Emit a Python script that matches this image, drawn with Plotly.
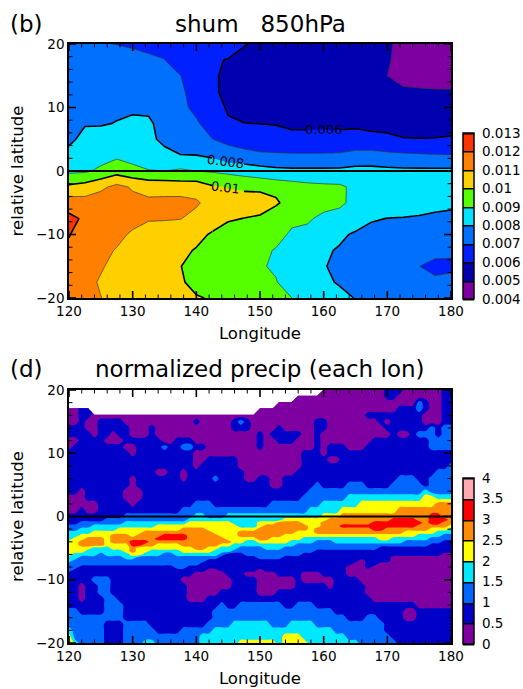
import numpy as np
import plotly.graph_objects as go

W, H = 523, 689
FONT = "DejaVu Sans"

# ---------- panel (b): specific humidity at 850 hPa, units of 1e-5 ----------
SHUM_LON = [120 + 2.5 * i for i in range(25)]
SHUM_LAT = [20, 17.5, 15, 12.5, 10, 7.5, 5, 2.5, 0, -2.5, -5, -7.5, -10, -12.5, -15, -17.5, -20]
SHUM_E5 = [
    [760,750,705,698,690,685,680,670,660,640,625,603,585,570,560,555,550,540,530,520,505,490,475,460,460],
    [780,770,755,740,725,710,701,650,625,605,598,585,575,565,555,550,545,535,525,515,503,490,470,455,450],
    [790,780,770,760,750,740,725,701,665,610,585,575,565,555,550,545,540,530,520,510,500,470,460,450,450],
    [790,785,775,770,770,760,740,715,665,610,585,570,560,555,545,540,535,530,525,520,515,514,512,510,509],
    [785,790,790,790,795,790,760,720,680,620,595,575,565,560,555,550,550,545,545,540,540,535,535,535,540],
    [790,795,795,802,806,808,781,760,710,660,605,601,599,595,580,580,580,580,585,575,570,560,560,550,550],
    [785,820,825,830,830,810,790,745,720,701,680,660,650,640,630,630,630,630,630,625,620,605,603,605,613],
    [820,850,860,880,860,830,812,802,800,780,735,725,713,711,710,710,710,712,730,733,720,715,710,705,703],
    [880,885,920,960,930,906,900,915,900,890,875,860,840,825,820,820,820,820,830,830,825,820,820,820,820],
    [1020,1040,1080,1125,1090,1070,1067,1050,1054,1010,995,980,976,960,943,927,919,915,880,870,870,860,860,860,860],
    [1150,1140,1150,1170,1126,1117,1121,1133,1113,1061,1050,1050,1050,1020,940,925,915,910,885,870,860,850,840,830,825],
    [1225,1185,1175,1150,1125,1108,1108,1103,1070,1045,1010,998,985,920,910,905,890,880,860,810,798,795,790,780,770],
    [1205,1150,1130,1120,1089,1060,1045,1035,1025,990,960,945,930,915,893,890,855,820,785,765,760,750,750,745,740],
    [1180,1145,1120,1095,1075,1060,1045,1018,994,965,950,935,910,897,870,840,815,790,760,740,730,725,725,722,720],
    [1170,1135,1105,1085,1065,1050,1035,1002,970,950,930,915,905,893,860,830,805,780,750,730,715,705,701,680,680],
    [1150,1115,1095,1075,1055,1040,1025,1008,980,960,940,920,912,903,870,840,810,795,760,740,725,715,712,714,728],
    [1150,1120,1101,1085,1060,1045,1030,1015,1005,995,975,955,935,920,900,880,850,815,798,770,755,745,735,730,730],
]
SHUM_LEVELS = [0.004, 0.005, 0.006, 0.007, 0.008, 0.009, 0.01, 0.011, 0.012, 0.013]
SHUM_LABELS = ["0.004", "0.005", "0.006", "0.007", "0.008", "0.009", "0.01", "0.011", "0.012", "0.013"]
SHUM_COLORS = ["#7f00a0", "#0000b0", "#0020ff", "#0070ff", "#00e5ff", "#55ff00", "#ffd000", "#ff8000", "#ff3300"]
# isoline labels of panel (b): text, longitude, latitude, tilt
SHUM_ISOLINE_LABELS = [
    ("0.006", 160, 6.6, 0),
    ("0.008", 144.6, 1.5, 7),
    ("0.01", 144.6, -2.6, 7),
]
EQUATOR_ROW = SHUM_LAT.index(0)

# ---------- panel (d): normalized precip, each digit = colour band (0-7) at one lon ----------
PRECIP_LON = list(range(120, 181))
PRECIP_LAT = list(range(20, 0, -1)) + [0, -0.5, -1, -1.5, -2, -2.5, -3, -3.5, -4, -4.5, -5, -5.5, -6,
                                       -6.5, -7, -7.5, -8, -8.5] + list(range(-9, -21, -1))
D = ".........."
P0 = "0000000000"
N1 = "1111111111"
PRECIP_BANDS = [
    f"{D} {D} {D} {D} {P0} 1110000001 1",
    f"{D} {D} {D} ......0000 {P0} 1100000001 1",
    f"{D} {D} {D} ...0000000 {P0} 0000021001 1",
    f"0011...... {D} {D} {P0} {P0} 0011121001 1",
    f"0011000000 {P0} {P0} {P0} 0000000111 1111110001 1",
    f"0010011110 {P0} 1000001210 0000000001 1000000001 0111110001 1",
    f"1110011111 0001000000 0000001110 0001000001 1000000000 1111111212 2",
    f"1111011011 0001000000 {P0} 1011111001 {P0} 0100122212 2",
    f"0011110001 1111100111 {P0} 1001110001 0000000011 1111111222 2",
    f"0111111110 0111121122 1100000000 1000000001 0111000111 1111111222 2",
    f"{N1} 0111111111 {P0} 0000000111 0111111111 {N1} 1",
    f"{N1} {N1} 0011111000 0000000111 1001111111 {N1} 1",
    f"{N1} {N1} 0111111000 0000000111 {N1} {N1} 2",
    f"{N1} 1111001101 1111111100 0000001111 {N1} 1111111122 2",
    f"{N1} 0111111101 1112111100 1100111111 {N1} 1122211222 2",
    f"{N1} 0111111111 {N1} 1100111112 1111222111 1222221222 2",
    f"1101111110 0011111111 {N1} 1111111122 2222222222 2222223222 2",
    f"0001111110 0011111111 {N1} 1111111222 2222333333 3333334433 3",
    f"0000011111 0111111111 2221111111 1122222222 3333334444 4444444455 5",
    f"0010011111 1111111122 2222222222 2222222233 3334444444 4455555555 5",
    f"1111111112 2222222222 3322233333 3333333333 4445555555 5555555665 5",
    "1111112222 2222222223 3333333333 3333444444 4555555555 5666655666 5",
    "1122222223 3333333334 4444443333 4445555444 5555555566 6666665665 5",
    "2222333333 3333444444 4444444333 4555555544 5556666666 6666655555 4",
    "2233333344 4444444455 5544444444 5555555545 5555555566 5555555444 3",
    "3333444444 4455555555 5554444555 5555554445 5555555555 5554444433 3",
    "3344444555 4555566665 5555444555 5555444444 4444444444 4444433332 2",
    "3445554555 5555666665 5555544444 5544444333 3333333334 4333333222 2",
    "4455554555 6665555555 5555554433 4444433332 2233333333 3332222221 1",
    "4455554444 6655444455 5555443333 3333332222 2222222222 2222222111 1",
    "4444333444 5444444444 5544333222 2333222222 2222222221 1111111111 1",
    "4443333334 5443333344 4443332222 2222222221 1111111111 1111111111 1",
    "4333323333 4433322333 3333211122 2222222111 1111111111 1111111110 0",
    "3322222223 3222222222 2222111111 2222111111 1111111111 1000000000 0",
    "3222222222 2222222222 2211111111 1111111111 1111110111 1000000000 0",
    "2222222222 2222222222 2111111111 1111111111 1111100110 0000000000 0",
    "2211111111 1111111221 1111111111 1111111111 1111000100 0000000000 0",
    "2111111111 1111111111 1100111111 0111111111 1111000000 0000000000 0",
    "1111111111 1111111111 0000011100 0001111000 1111000000 0000000000 0",
    "1111222111 1111111100 0000001111 0000001000 0011110000 0000000000 0",
    "1101122111 1111111110 0000001111 0000001111 1011111000 0000000000 0",
    "1101122111 1111111110 0000111111 0001111111 1111111000 0000000000 0",
    "1101112211 1111111110 0011111111 1111111111 1111111100 0000000000 0",
    "1111112221 1111111111 1111211222 2222112221 1111111111 1111100000 0",
    "2211112221 1111111111 1112222222 2222222222 2211111111 1110011111 1",
    "2222222221 1111111111 1112222222 2222222222 2222111221 1110011111 1",
    "2222221112 2221111111 1122223333 3322233332 2222222222 1111111111 1",
    "3222221112 2222111122 2223333333 3333333333 3322222222 1111111111 1",
    "4222221112 2222222222 2333333333 3333444333 3333222222 2111111111 1",
    "5322221112 2233222222 2333333444 4443444433 3333332222 2211111111 1",
]
PRECIP_LEVELS = [0, 0.5, 1, 1.5, 2, 2.5, 3, 3.5, 4]
PRECIP_LABELS = ["0", "0.5", "1", "1.5", "2", "2.5", "3", "3.5", "4"]
PRECIP_COLORS = ["#7f00a0", "#0000c8", "#0066ff", "#00e8ff", "#ffff00", "#ff8c00", "#ff0000", "#ffaab0"]

X_MAJOR = [120, 130, 140, 150, 160, 170, 180]
X_MINOR = [v for v in range(120, 181, 2) if v % 10]
Y_MAJOR = [-20, -10, 0, 10, 20]
Y_MINOR = [v for v in range(-20, 21, 2) if v % 10]


def step_scale(colors):
    n = len(colors)
    out = []
    for i, c in enumerate(colors):
        out += [[i / n, c], [(i + 1) / n, c]]
    return out


def band_values(rows):
    grid = []
    for r in rows:
        r = r.replace(" ", "")
        grid.append([np.nan if ch == "." else int(ch) * 0.5 + 0.25 for ch in r])
    return np.array(grid)


shum = np.array(SHUM_E5) * 1e-5
precip = band_values(PRECIP_BANDS)

P_L, P_R = 69 / W, 451 / W
T1, B1 = 1 - 44 / H, 1 - 298 / H
T2, B2 = 1 - 390 / H, 1 - 643 / H
CB_X = 463 / W


def colorbar(levels, labels, y0, y1):
    return dict(
        x=CB_X, xanchor="left", xpad=0, y=(y0 + y1) / 2, yanchor="middle", ypad=0,
        len=y1 - y0, lenmode="fraction", thickness=11, thicknessmode="pixels",
        outlinecolor="black", outlinewidth=1.5, borderwidth=0,
        tickmode="array", tickvals=levels, ticktext=labels,
        ticks="outside", ticklen=5, tickcolor="rgba(0,0,0,0)",
        tickfont=dict(family=FONT, size=13.5, color="black"),
    )


fig = go.Figure()


def add_panel(xa, ya, x, y, z, levels, labels, colors, cy0, cy1, smooth):
    step = levels[1] - levels[0]
    # colour key carrier: hidden beneath the field, gives black separators in the key
    mid = len(x) // 2
    fig.add_trace(go.Contour(
        x=[x[mid], x[mid + 1]], y=[0, 0.5],
        z=[[levels[0], levels[0]], [levels[0], levels[0]]],
        xaxis=xa, yaxis=ya, autocontour=False,
        contours=dict(start=levels[0], end=levels[-1], size=step, coloring="fill", showlines=True),
        line=dict(color="black", width=1.5),
        colorscale=step_scale(colors), zmin=levels[0], zmax=levels[-1], zauto=False,
        colorbar=colorbar(levels, labels, cy0, cy1), showscale=True, hoverinfo="skip",
    ))
    fig.add_trace(go.Contour(
        x=x, y=y, z=z, xaxis=xa, yaxis=ya, autocontour=False,
        contours=dict(start=levels[0], end=levels[-1], size=step, coloring="fill", showlines=False),
        line=dict(width=0, smoothing=smooth),
        colorscale=step_scale(colors), zmin=levels[0], zmax=levels[-1], zauto=False,
        showscale=False, connectgaps=False, hoverinfo="skip",
    ))


def heavy(level, rows, cols):
    """One stretch of a heavy isoline of panel (b), from a sub-block of the same table."""
    r0, r1 = rows
    c0, c1 = cols
    fig.add_trace(go.Contour(
        x=SHUM_LON[c0:c1 + 1], y=SHUM_LAT[r0:r1 + 1], z=shum[r0:r1 + 1, c0:c1 + 1],
        xaxis="x", yaxis="y", autocontour=False,
        contours=dict(start=level, end=level, size=0.002, coloring="none", showlabels=False),
        line=dict(color="black", width=1.6, smoothing=0), showscale=False, hoverinfo="skip",
    ))


add_panel("x", "y", SHUM_LON, SHUM_LAT, shum, SHUM_LEVELS, SHUM_LABELS, SHUM_COLORS,
          1 - 299 / H, 1 - 133 / H, 0)
# thin isolines at the odd levels
fig.add_trace(go.Contour(
    x=SHUM_LON, y=SHUM_LAT, z=shum, xaxis="x", yaxis="y", autocontour=False,
    contours=dict(start=0.005, end=0.011, size=0.002, coloring="none", showlabels=False),
    line=dict(color="#333333", width=0.7, smoothing=0), showscale=False, hoverinfo="skip",
))
# heavy isolines, broken where their labels sit
n = EQUATOR_ROW
last_row, last_col = len(SHUM_LAT) - 1, len(SHUM_LON) - 1
heavy(0.006, (0, n), (0, 15))
heavy(0.006, (0, n), (17, last_col))
heavy(0.008, (0, n), (0, 9))
heavy(0.008, (0, n), (11, last_col))
heavy(0.008, (n, last_row), (0, last_col))
heavy(0.01, (0, last_row), (0, 9))
heavy(0.01, (n + 2, last_row), (9, 11))
heavy(0.01, (0, last_row), (11, last_col))
heavy(0.012, (0, last_row), (0, last_col))
add_panel("x2", "y2", PRECIP_LON, PRECIP_LAT, precip, PRECIP_LEVELS, PRECIP_LABELS, PRECIP_COLORS,
          1 - 644 / H, 1 - 478 / H, 1)


def segments(values, other, length, along_x):
    """Tick segments on both opposite edges, in data units."""
    a, b = [], []
    for v in values:
        for edge, sign in ((other[0], 1), (other[1], -1)):
            a += [v, v, None]
            b += [edge, edge + sign * length, None]
    return (a, b) if along_x else (b, a)


DX_PER_PX = 60 / 382
DY_PER_PX = 40 / 254
for xa, ya in (("x", "y"), ("x2", "y2")):
    fig.add_trace(go.Scatter(x=[120, 180], y=[0, 0], xaxis=xa, yaxis=ya, mode="lines",
                             line=dict(color="black", width=2), showlegend=False, hoverinfo="skip"))
    for vals, rng, ln, w, along in (
        (X_MAJOR, (-20, 20), 7 * DY_PER_PX, 1.6, True),
        (X_MINOR, (-20, 20), 3.5 * DY_PER_PX, 1, True),
        (Y_MAJOR, (120, 180), 7 * DX_PER_PX, 1.6, False),
        (Y_MINOR, (120, 180), 3.5 * DX_PER_PX, 1, False),
    ):
        sx, sy = segments(vals, rng, ln, along)
        fig.add_trace(go.Scatter(x=sx, y=sy, xaxis=xa, yaxis=ya, mode="lines", connectgaps=False,
                                 line=dict(color="black", width=w), showlegend=False, hoverinfo="skip"))

axis_common = dict(
    showgrid=False, zeroline=False, showline=True, linecolor="black", linewidth=1.5,
    mirror=True, ticks="", tickfont=dict(family=FONT, size=13.5, color="black"), automargin=False,
    tickmode="linear", dtick=10,
)
xa = dict(range=[120, 180], tick0=120,
          title=dict(text="Longitude", font=dict(family=FONT, size=16.5, color="black"), standoff=9),
          **axis_common)
ya = dict(range=[-20, 20], tick0=-20,
          title=dict(text="relative\u00a0latitude", font=dict(family=FONT, size=16.5, color="black"), standoff=8),
          **axis_common)

fig.update_layout(
    width=W, height=H, margin=dict(l=0, r=0, t=0, b=0, autoexpand=False),
    paper_bgcolor="white", plot_bgcolor="white", showlegend=False,
    xaxis=dict(domain=[P_L, P_R], anchor="y", **xa),
    yaxis=dict(domain=[B1, T1], anchor="x", **ya),
    xaxis2=dict(domain=[P_L, P_R], anchor="y2", **xa),
    yaxis2=dict(domain=[B2, T2], anchor="x2", **ya),
)


def text(x_px, y_px, s, size=23, anchor="center"):
    fig.add_annotation(xref="paper", yref="paper", x=x_px / W, y=1 - y_px / H, text=s, showarrow=False,
                       xanchor=anchor, yanchor="middle", font=dict(family=FONT, size=size, color="black"))


text(8, 24, "(b)", anchor="left")
text(260, 24, "shum\u00a0\u00a0\u00a0850hPa")
text(8, 369, "(d)", anchor="left")
text(260, 369, "normalized\u00a0precip\u00a0(each\u00a0lon)")

for s, lon, lat, tilt in SHUM_ISOLINE_LABELS:
    fig.add_annotation(xref="x", yref="y", x=lon, y=lat, text=s, showarrow=False, textangle=tilt,
                       font=dict(family=FONT, size=13, color="black"))

fig.write_html("out.html", config=dict(displayModeBar=False), post_script="document.body.style.margin='0';")
